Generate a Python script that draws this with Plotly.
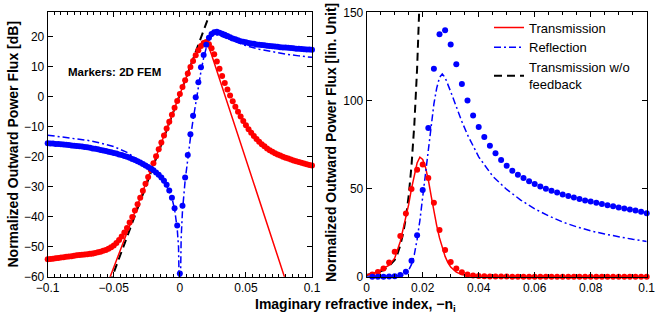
import plotly.graph_objects as go

# ---------------- DATA ----------------
# FEM sample grid (markers), left panel: -0.1 .. 0.1 step 0.002
fem_x_left = [round(-0.1 + 0.002 * i, 3) for i in range(101)]

fem_T_dB = [
    -54.2, -54.1, -54.0, -53.9, -53.8, -53.6, -53.5, -53.4, -53.3, -53.2,
    -53.0, -52.9, -52.8, -52.7, -52.6, -52.5, -52.4, -52.3, -52.1, -51.9,
    -51.7, -51.4, -51.1, -50.7, -50.2, -49.6, -48.8, -47.8, -46.6, -45.3,
    -43.8, -42.0, -40.1, -38.0, -35.9, -33.7, -31.4, -29.1, -26.8, -24.5,
    -22.2, -19.9, -17.6, -15.3, -13.0, -10.7, -8.4, -6.1, -3.8, -1.5,
    0.8, 3.1, 5.4, 7.6, 9.8, 11.8, 13.7, 15.4, 16.8, 17.8,
    18.1, 17.4, 16.0, 14.0, 11.6, 9.2, 6.8, 4.5, 2.3, 0.3,
    -1.6, -3.4, -5.1, -6.7, -8.2, -9.6, -10.9, -12.1, -13.2, -14.2,
    -15.1, -15.9, -16.6, -17.3, -17.9, -18.4, -18.9, -19.3, -19.7, -20.1,
    -20.4, -20.7, -21.0, -21.3, -21.6, -21.8, -22.1, -22.3, -22.6, -22.8,
    -23.0,
]

fem_R_dB = [
    -15.6, -15.7, -15.7, -15.8, -15.8, -15.9, -16.0, -16.1, -16.2, -16.3,
    -16.4, -16.5, -16.6, -16.7, -16.8, -16.9, -17.1, -17.3, -17.4, -17.6,
    -17.8, -18.0, -18.2, -18.4, -18.6, -18.8, -19.0, -19.3, -19.5, -19.8,
    -20.1, -20.4, -20.8, -21.2, -21.6, -22.0, -22.5, -23.0, -23.5, -24.0,
    -24.6, -25.3, -26.1, -27.0, -28.1, -29.4, -31.3, -33.7, -37.2, -43.0,
    -58.9, -36.4, -27.0, -19.5, -12.6, -6.4, -0.3, 4.7, 9.7, 13.8,
    17.2, 19.5, 20.8, 21.4, 21.5, 21.2, 20.9, 20.5, 20.1, 19.7,
    19.3, 19.0, 18.7, 18.4, 18.2, 18.0, 17.8, 17.6, 17.5, 17.3,
    17.2, 17.1, 17.0, 16.9, 16.8, 16.7, 16.6, 16.5, 16.4, 16.3,
    16.3, 16.2, 16.1, 16.0, 15.9, 15.9, 15.8, 15.7, 15.6, 15.6,
    15.5,
]

# Theory curves, left panel (dB)
thT_x_left = [-0.06, -0.04, -0.02, 0.0, 0.005, 0.010, 0.013, 0.015, 0.017, 0.018,
              0.019, 0.020, 0.021, 0.022, 0.024, 0.026, 0.030, 0.040, 0.050, 0.060,
              0.070, 0.080, 0.090]
thT_dB = [-68.4, -45.2, -22.2, 0.8, 6.5, 12.1, 15.3, 17.0, 18.0, 18.3,
          18.4, 18.1, 17.4, 16.4, 13.9, 11.2, 5.8, -7.6, -21.0, -34.4,
          -47.8, -61.2, -74.6]

thR_x_left = [-0.1, -0.09, -0.08, -0.07, -0.06, -0.05, -0.04, -0.03, -0.02, -0.01,
              -0.006, -0.004, -0.002, -0.001, 0.0, 0.001, 0.002, 0.004, 0.006, 0.008,
              0.010, 0.012, 0.014, 0.016, 0.018, 0.020, 0.022, 0.024, 0.026, 0.028,
              0.030, 0.035, 0.040, 0.050, 0.060, 0.070, 0.080, 0.090, 0.100]
thR_dB = [-12.9, -13.4, -13.9, -14.6, -15.5, -16.7, -18.6, -21.5, -24.6, -29.8,
          -33.8, -37.5, -44.0, -50.0, -75.0, -47.0, -38.0, -28.0, -20.5, -13.8,
          -7.8, -2.0, 3.3, 8.4, 12.8, 16.2, 18.6, 20.0, 20.6, 20.5,
          20.3, 19.4, 18.5, 16.9, 15.7, 14.8, 14.1, 13.5, 13.0]

thNF_x_left = [-0.06, 0.03]
thNF_dB = [-70.5, 36.2]

# Right panel (linear units)
fem_x_right = [round(0.002 * i, 3) for i in range(1, 51)]
fem_T_lin = [
    1.3, 2.6, 4.6, 8.1, 14.2, 23.1, 35.9, 49.7, 60.7, 63.6,
    56.0, 42.0, 26.5, 15.1, 8.3, 4.6, 2.5, 1.3, 0.7, 0.4,
    0.2, 0.1, 0.1, 0.1, 0.1, 0.0, 0.0, 0.0, 0.0, 0.0,
    0.0, 0.0, 0.0, 0.0, 0.0, 0.0, 0.0, 0.0, 0.0, 0.0,
    0.0, 0.0, 0.0, 0.0, 0.0, 0.0, 0.0, 0.0, 0.0, 0.0,
]
fem_R_lin = [
    0.0, 0.0, 0.0, 0.1, 0.3, 0.9, 2.8, 9.1, 23.5, 49.2,
    84.4, 118.0, 137.5, 139.8, 131.8, 120.5, 109.3, 99.9, 91.5, 84.9,
    79.3, 74.3, 70.0, 66.2, 63.0, 60.1, 57.9, 56.0, 54.1, 52.6,
    51.2, 49.9, 48.8, 47.7, 46.7, 45.8, 44.9, 44.1, 43.3, 42.6,
    41.9, 41.2, 40.5, 39.9, 39.3, 38.7, 38.1, 37.5, 36.9, 36.0,
]

thT_x_right = [0.0, 0.004, 0.008, 0.010, 0.012, 0.014, 0.015, 0.016, 0.017, 0.018,
               0.019, 0.020, 0.021, 0.022, 0.023, 0.024, 0.025, 0.026, 0.027, 0.028,
               0.029, 0.030, 0.032, 0.034, 0.036, 0.040, 0.050, 0.100]
thT_lin = [1.0, 2.8, 6.5, 10.5, 20.0, 33.0, 41.0, 50.0, 58.0, 64.5,
           67.8, 66.5, 62.0, 55.0, 46.0, 37.0, 29.0, 22.0, 16.0, 11.5,
           8.0, 5.5, 2.6, 1.2, 0.5, 0.1, 0.0, 0.0]

thR_x_right = [0.0, 0.010, 0.012, 0.013, 0.014, 0.015, 0.016, 0.017, 0.018, 0.019,
               0.020, 0.021, 0.022, 0.023, 0.024, 0.025, 0.026, 0.027, 0.028, 0.030,
               0.032, 0.034, 0.036, 0.038, 0.040, 0.045, 0.050, 0.055, 0.060, 0.065,
               0.070, 0.075, 0.080, 0.085, 0.090, 0.095, 0.100]
thR_lin = [0.0, 0.2, 0.6, 1.1, 2.0, 3.8, 7.0, 12.5, 21.0, 32.0,
           45.0, 59.0, 73.0, 86.0, 98.0, 107.0, 113.0, 115.0, 113.0, 105.0,
           96.0, 88.0, 80.5, 74.0, 68.0, 57.0, 49.5, 43.5, 38.5, 34.5,
           31.0, 28.3, 26.0, 24.2, 22.6, 21.2, 20.0]

thNF_x_right = [0.0, 0.002, 0.004, 0.006, 0.008, 0.010, 0.011, 0.012, 0.013, 0.014,
                0.015, 0.016, 0.017, 0.018, 0.0185, 0.019]
thNF_lin = [1.0, 1.6, 2.5, 3.8, 6.0, 9.5, 13.0, 17.8, 24.5, 33.5,
            46.0, 63.0, 86.0, 118.0, 138.0, 162.0]

left_xticks = [-0.1, -0.05, 0, 0.05, 0.1]
left_xticktext = ["\u22120.1", "\u22120.05", "0", "0.05", "0.1"]
left_yticks = [-60, -50, -40, -30, -20, -10, 0, 10, 20]
right_xticks = [0, 0.02, 0.04, 0.06, 0.08, 0.1]
right_xticktext = ["0", "0.02", "0.04", "0.06", "0.08", "0.1"]
right_yticks = [0, 50, 100, 150]

# ---------------- STYLE ----------------
RED = "#ff0000"
BLUE = "#0000ff"
FONT = "Arial, Liberation Sans, Helvetica, sans-serif"
DASHDOT = "7px,3px,2px,3px"
DASH = "8px,5px"

fig = go.Figure()

# Left panel lines
fig.add_trace(go.Scatter(x=thNF_x_left, y=thNF_dB, mode="lines", xaxis="x", yaxis="y",
                         line=dict(color="black", width=2, dash=DASH), showlegend=False))
fig.add_trace(go.Scatter(x=thT_x_left, y=thT_dB, mode="lines", xaxis="x", yaxis="y",
                         line=dict(color=RED, width=1.5), showlegend=False))
fig.add_trace(go.Scatter(x=thR_x_left, y=thR_dB, mode="lines", xaxis="x", yaxis="y",
                         line=dict(color=BLUE, width=1.5, dash=DASHDOT), showlegend=False))
# Left panel markers
fig.add_trace(go.Scatter(x=fem_x_left, y=fem_T_dB, mode="markers", xaxis="x", yaxis="y",
                         marker=dict(color=RED, size=6), showlegend=False, cliponaxis=False))
fig.add_trace(go.Scatter(x=fem_x_left, y=fem_R_dB, mode="markers", xaxis="x", yaxis="y",
                         marker=dict(color=BLUE, size=6), showlegend=False, cliponaxis=False))

# Right panel lines (with legend)
fig.add_trace(go.Scatter(x=thNF_x_right, y=thNF_lin, mode="lines", xaxis="x2", yaxis="y2",
                         name="Transmission w/o<br>feedback", legendrank=3,
                         line=dict(color="black", width=2, dash=DASH)))
fig.add_trace(go.Scatter(x=thT_x_right, y=thT_lin, mode="lines", xaxis="x2", yaxis="y2",
                         name="Transmission", legendrank=1,
                         line=dict(color=RED, width=1.5)))
fig.add_trace(go.Scatter(x=thR_x_right, y=thR_lin, mode="lines", xaxis="x2", yaxis="y2",
                         name="Reflection", legendrank=2,
                         line=dict(color=BLUE, width=1.5, dash=DASHDOT)))
# Right panel markers
fig.add_trace(go.Scatter(x=fem_x_right, y=fem_T_lin, mode="markers", xaxis="x2", yaxis="y2",
                         marker=dict(color=RED, size=6), showlegend=False, cliponaxis=False))
fig.add_trace(go.Scatter(x=fem_x_right, y=fem_R_lin, mode="markers", xaxis="x2", yaxis="y2",
                         marker=dict(color=BLUE, size=6), showlegend=False, cliponaxis=False))

W, H = 664, 317
axis_common = dict(showline=True, linecolor="black", linewidth=1, mirror="ticks",
                   ticks="inside", ticklen=5, tickwidth=1, tickcolor="black",
                   showgrid=False, zeroline=False, automargin=False,
                   tickfont=dict(family=FONT, size=12, color="black"))
minor_x = dict(dtick=0.005, tick0=0, ticks="inside", ticklen=3, tickwidth=1,
               tickcolor="black", showgrid=False)

ydom = [40.3 / H, 304.7 / H]
title_font = dict(family=FONT, size=14, color="black")
fig.update_layout(
    template="none",
    width=W, height=H,
    margin=dict(l=0, r=0, t=0, b=0, pad=0, autoexpand=False),
    paper_bgcolor="white", plot_bgcolor="white",
    font=dict(family=FONT, color="black"),
    xaxis=dict(domain=[47.7 / W, 312.0 / W], range=[-0.1, 0.1], anchor="y",
               tickmode="array", tickvals=left_xticks, ticktext=left_xticktext,
               minor=minor_x, **axis_common),
    yaxis=dict(domain=ydom, range=[-60, 28], anchor="x",
               tickmode="array", tickvals=left_yticks, **axis_common),
    xaxis2=dict(domain=[366.7 / W, 646.7 / W], range=[0, 0.1], anchor="y2",
                tickmode="array", tickvals=right_xticks, ticktext=right_xticktext,
                minor=minor_x, **axis_common),
    yaxis2=dict(domain=ydom, range=[0, 150], anchor="x2",
                tickmode="array", tickvals=right_yticks, **axis_common),
    legend=dict(x=489 / W, y=1 - 12.5 / H, xanchor="left", yanchor="top",
                bgcolor="rgba(0,0,0,0)", font=dict(family=FONT, size=13, color="black"),
                itemwidth=30, tracegroupgap=0, traceorder="normal"),
    annotations=[
        dict(text="<b>Normalized Outward Power Flux [dB]</b>", xref="paper", yref="paper",
             x=12 / W, y=1 - 144.5 / H, textangle=-90, showarrow=False,
             xanchor="center", yanchor="middle", font=title_font),
        dict(text="<b>Normalized Outward Power Flux [lin. Unit]</b>", xref="paper", yref="paper",
             x=331 / W, y=1 - 143 / H, textangle=-90, showarrow=False,
             xanchor="center", yanchor="middle", font=title_font),
        dict(text="<b>Imaginary refractive index, \u2212n<sub>i</sub></b>", xref="paper", yref="paper",
             x=355 / W, y=1 - 305 / H, showarrow=False,
             xanchor="center", yanchor="middle", font=title_font),
        dict(text="<b>Markers: 2D FEM</b>", xref="paper", yref="paper",
             x=114 / W, y=1 - 72 / H, showarrow=False,
             xanchor="center", yanchor="middle",
             font=dict(family=FONT, size=11.5, color="black")),
    ],
)

fig.write_html("out.html", config={"displayModeBar": False},
               post_script="document.body.style.margin='0';")
